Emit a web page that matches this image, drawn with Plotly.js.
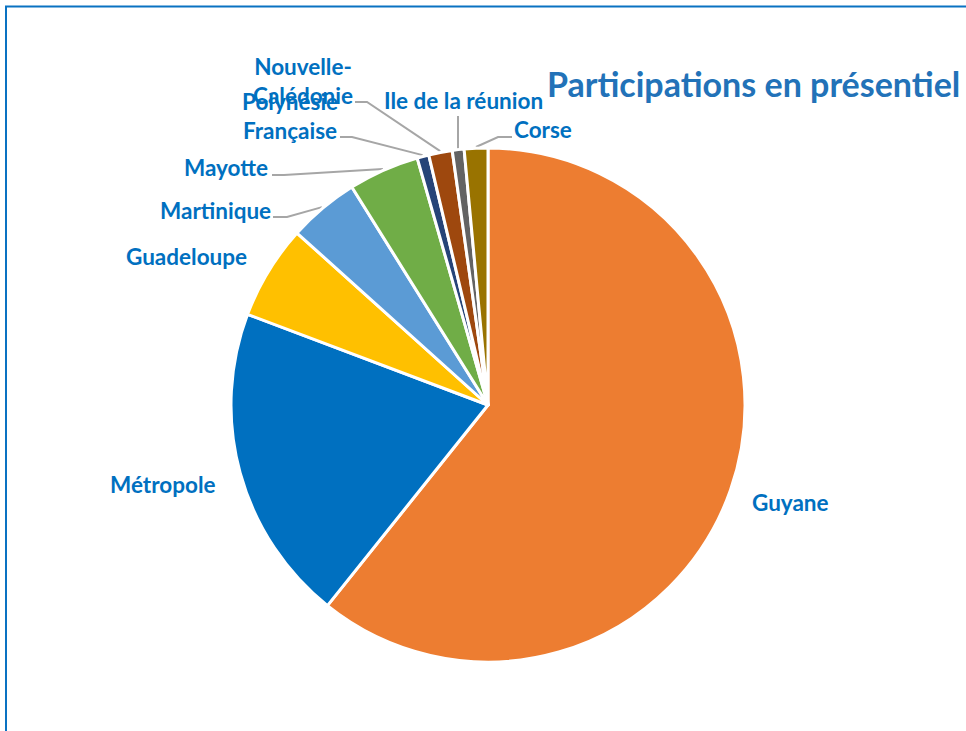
<!DOCTYPE html>
<html>
<head>
<meta charset="utf-8">
<script src="https://cdn.plot.ly/plotly-3.0.1.min.js"></script>
<style>html,body{margin:0;padding:0;background:#fff;}#chart{width:966px;height:731px;}</style>
</head>
<body>
<div id="chart"></div>
<script>
// ---- data ----
const categories = ['Guyane', 'Métropole', 'Guadeloupe', 'Martinique', 'Mayotte',
  'Polynésie Française', 'Nouvelle-Calédonie', 'Ile de la réunion', 'Corse'];
const participants = [82, 27, 8, 6, 6, 1, 2, 1, 2];
const labelTexts = ['Guyane', 'Métropole', 'Guadeloupe', 'Martinique', 'Mayotte',
  'Polynésie<br>Française', 'Nouvelle-<br>Calédonie', 'Ile de la réunion', 'Corse'];
const sliceColors = ['#ED7D31', '#0070C0', '#FFC000', '#5B9BD5', '#70AD47',
  '#264478', '#9E480E', '#636363', '#997300'];
const chartTitle = 'Participations en présentiel';

// ---- layout constants (pixels) ----
const W = 966, H = 731;
const cx = 488, cy = 405, R = 257;
// label centres (px)
const labelPos = [[790, 502], [163, 484], [186, 256], [215, 210], [226, 167],
  [290, 116], [303, 81], [463, 101], [543, 130]];
// leader line start points / elbows (px); null = no line
const leaderStart = [null, null, null, [[273, 217], [287, 217]], [[272, 175], [284, 175]],
  [[340, 137], [352, 137]], [[355, 102], [367, 102]], [[458, 116]], [[512, 137], [498, 137]]];

const px = x => x / W;
const py = y => 1 - y / H;

const total = participants.reduce((a, b) => a + b, 0);
let cum = 0;
const shapes = [];
const annotations = [];
participants.forEach((v, i) => {
  const mid = (cum + v / 2) / total * 2 * Math.PI;
  cum += v;
  const ex = cx + R * 1.005 * Math.sin(mid);
  const ey = cy - R * 1.005 * Math.cos(mid);
  if (leaderStart[i]) {
    const pts = leaderStart[i].concat([[ex, ey]]);
    const path = pts.map((p, k) => (k ? 'L' : 'M') + px(p[0]).toFixed(5) + ',' + py(p[1]).toFixed(5)).join(' ');
    shapes.push({type: 'path', xref: 'paper', yref: 'paper', path: path,
      line: {color: '#A6A6A6', width: 2}, layer: 'below'});
  }
  annotations.push({
    xref: 'paper', yref: 'paper', x: px(labelPos[i][0]), y: py(labelPos[i][1]),
    xanchor: 'center', yanchor: 'middle', text: labelTexts[i], showarrow: false,
    font: {family: 'Lato, sans-serif', size: 22.5, color: '#0070C0', weight: 700}
  });
});

// frame border
shapes.push({type: 'path', xref: 'paper', yref: 'paper',
  path: 'M' + px(6) + ',-0.05 L' + px(6) + ',' + py(6.5) + ' L1.05,' + py(6.5),
  line: {color: '#0A72C2', width: 2}});

const trace = {
  type: 'pie',
  labels: categories,
  values: participants,
  sort: false,
  direction: 'clockwise',
  rotation: 0,
  textinfo: 'none',
  marker: {colors: sliceColors, line: {color: '#FFFFFF', width: 3}},
  domain: {x: [px(cx - R), px(cx + R)], y: [py(cy + R), py(cy - R)]},
  showlegend: false
};

const layout = {
  width: W, height: H,
  margin: {l: 0, r: 0, t: 0, b: 0},
  paper_bgcolor: '#FFFFFF',
  title: {text: chartTitle, x: px(547), xanchor: 'left', xref: 'paper',
    y: py(85), yanchor: 'middle', yref: 'paper',
    font: {family: 'Lato, sans-serif', size: 34, color: '#2272B8', weight: 700}},
  shapes: shapes,
  annotations: annotations,
  showlegend: false
};

Plotly.newPlot('chart', [trace], layout, {displayModeBar: false, staticPlot: true});
</script>
</body>
</html>
